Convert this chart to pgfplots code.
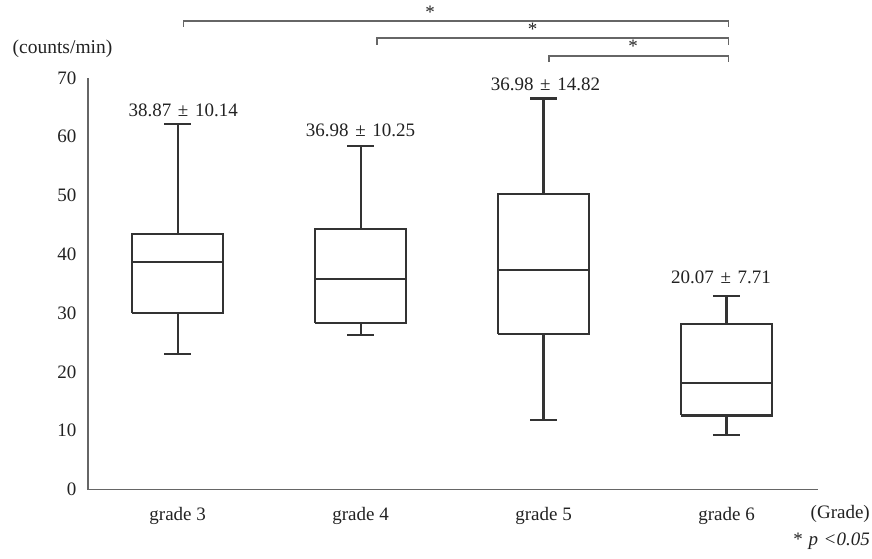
\documentclass[border=0pt]{standalone}
\usepackage{fontspec}
\setmainfont{Liberation Serif}
\usepackage{pgfplots}
\pgfplotsset{compat=1.18}
\newcommand\fs{\fontsize{19}{23}\selectfont}
\definecolor{boxc}{HTML}{333333}
\definecolor{axc}{HTML}{666666}
\definecolor{txtc}{HTML}{222222}
\newcommand\pmlab[2]{#1\kern.35em±\kern.35em#2}
\begin{document}
\begin{tikzpicture}[x=1pt,y=1pt,font=\fs,text=txtc]
\useasboundingbox (0,0) rectangle (872,558);
\begin{axis}[
  at={(88pt,68.5pt)}, anchor=south west,
  scale only axis, width=730pt, height=411.6pt,
  xmin=-0.49, xmax=3.5, ymin=0, ymax=70,
  axis x line*=bottom, axis y line*=left,
  axis line style={-, draw=axc, line width=1.8pt},
  xtick={0,1,2,3},
  xticklabels={grade 3,grade 4,grade 5,grade 6},
  ytick={0,10,...,70},
  major tick length=0pt, tick style={draw=none},
  ticklabel style={font=\fs, text=txtc},
  /pgf/number format/assume math mode=true,
  yticklabel style={xshift=-8pt},
  xticklabel style={yshift=-14pt},
  clip=false,
  unbounded coords=jump,
  bx/.style={draw=boxc, solid, line width=2.2pt, mark=none, line join=miter},
]
% grade 3: lower whisker, Q1, median, Q3, upper whisker = 23.04, 30.07, 38.74, 43.45, 62.1
\addplot[bx] coordinates {(-0.25,30.07) (0.25,30.07) (0.25,43.45) (-0.25,43.45) (-0.25,30.07) (nan,nan)
  (-0.25,38.74) (0.25,38.74) (nan,nan)
  (0,43.45) (0,62.1) (nan,nan) (-0.074,62.1) (0.074,62.1) (nan,nan)
  (0,30.07) (0,23.04) (nan,nan) (-0.074,23.04) (0.074,23.04)};
% grade 4: 26.3, 28.3, 35.8, 44.3, 58.4
\addplot[bx] coordinates {(0.75,28.3) (1.25,28.3) (1.25,44.3) (0.75,44.3) (0.75,28.3) (nan,nan)
  (0.75,35.8) (1.25,35.8) (nan,nan)
  (1,44.3) (1,58.4) (nan,nan) (0.926,58.4) (1.074,58.4) (nan,nan)
  (1,28.3) (1,26.3) (nan,nan) (0.926,26.3) (1.074,26.3)};
% grade 5: 11.8, 26.4, 37.3, 50.3, 66.5
\addplot[bx] coordinates {(1.75,26.4) (2.25,26.4) (2.25,50.3) (1.75,50.3) (1.75,26.4) (nan,nan)
  (1.75,37.3) (2.25,37.3) (nan,nan)
  (2,50.3) (2,66.5) (nan,nan) (1.926,66.5) (2.074,66.5) (nan,nan)
  (2,26.4) (2,11.8) (nan,nan) (1.926,11.8) (2.074,11.8)};
% grade 6: 9.3, 12.6, 18.1, 28.1, 32.9
\addplot[bx] coordinates {(2.75,12.6) (3.25,12.6) (3.25,28.1) (2.75,28.1) (2.75,12.6) (nan,nan)
  (2.75,18.1) (3.25,18.1) (nan,nan)
  (3,28.1) (3,32.9) (nan,nan) (2.926,32.9) (3.074,32.9) (nan,nan)
  (3,12.6) (3,9.3) (nan,nan) (2.926,9.3) (3.074,9.3)};

\node[inner sep=0] at (axis cs:0.03,64.5) {\pmlab{38.87}{10.14}};
\node[inner sep=0] at (axis cs:1.0,61.1) {\pmlab{36.98}{10.25}};
\node[inner sep=0] at (axis cs:2.01,68.9) {\pmlab{36.98}{14.82}};
\node[inner sep=0] at (axis cs:2.97,36.1) {\pmlab{20.07}{7.71}};

\draw[axc, line width=1.3pt] (axis cs:0.033,78.7) -- (axis cs:0.033,79.7) -- (axis cs:3.01,79.7) -- (axis cs:3.01,78.7);
\draw[axc, line width=1.3pt] (axis cs:1.09,75.6) -- (axis cs:1.09,76.8) -- (axis cs:3.01,76.8) -- (axis cs:3.01,75.6);
\draw[axc, line width=1.3pt] (axis cs:2.03,72.7) -- (axis cs:2.03,73.7) -- (axis cs:3.01,73.7) -- (axis cs:3.01,72.7);
\node[inner sep=0] at (axis cs:1.38,81.1) {*};
\node[inner sep=0] at (axis cs:1.94,78.2) {*};
\node[inner sep=0] at (axis cs:2.49,75.3) {*};
\end{axis}
\node[inner sep=0] at (62.5,509) {\fontsize{19.5}{23}\selectfont(counts/min)};
\node[inner sep=0, anchor=east] at (870,44) {(Grade)};
\node[inner sep=0, anchor=east] at (870,17) {*\kern.3em\textit{p\kern.3em<0.05}};
\end{tikzpicture}
\end{document}
